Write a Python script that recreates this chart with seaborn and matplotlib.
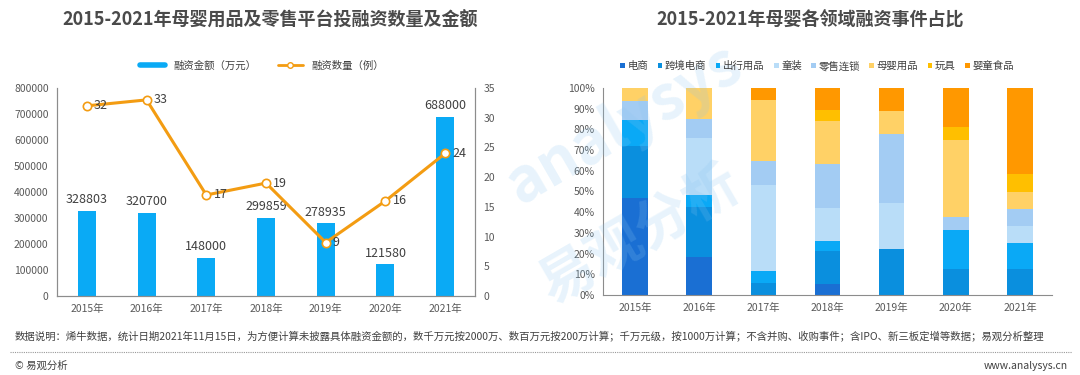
import numpy as np
import pandas as pd
import matplotlib
matplotlib.use('Agg')
import matplotlib.pyplot as plt
import seaborn as sns
from matplotlib.lines import Line2D
from matplotlib.patches import Patch

# --- data ---
years = ['2015年', '2016年', '2017年', '2018年', '2019年', '2020年', '2021年']
amount = [328803, 320700, 148000, 299859, 278935, 121580, 688000]   # 融资金额（万元）
deal_count = [32, 33, 17, 19, 9, 16, 24]                              # 融资数量（例）

sectors = ['电商', '跨境电商', '出行用品', '童装', '零售连锁', '母婴用品', '玩具', '婴童食品']
# events per sector per year (2015..2021)
ecom = [15, 6, 0, 1, 0, 0, 0]
cross_border = [8, 8, 1, 3, 2, 2, 3]
travel = [4, 2, 1, 1, 0, 3, 3]
kids_wear = [0, 9, 7, 3, 2, 0, 2]
retail_chain = [3, 3, 2, 4, 3, 1, 2]
maternal = [2, 5, 5, 4, 1, 6, 2]
toys = [0, 0, 0, 1, 0, 1, 2]
baby_food = [0, 0, 1, 2, 1, 3, 10]

sector_colors = ['#1a6fd3', '#0a8fde', '#0aa9f6', '#b9ddf8', '#a3ccf3',
                 '#ffd166', '#ffbf00', '#ff9800']

sns.set_theme(style='white')
plt.rcParams['font.family'] = ['Noto Sans CJK SC', 'DejaVu Sans']
plt.rcParams['axes.unicode_minus'] = False

TXT = '#404040'
TICK = '#595959'
SPINE = '#8c8c8c'

fig = plt.figure(figsize=(10.8, 3.75), dpi=100)
W, H = 1080, 375


def px_axes(x0, y0, x1, y1):
    return fig.add_axes([x0 / W, 1 - y1 / H, (x1 - x0) / W, (y1 - y0) / H])


# --- left chart: amount bars + count line ---
ax = px_axes(57, 88, 475, 296)
df_left = pd.DataFrame({'year': years, 'amount': amount})
sns.barplot(data=df_left, x='year', y='amount', color='#0aaaf5', width=0.3,
            saturation=1, ax=ax, linewidth=0)
ax.set_ylim(0, 800000)
ax.set_yticks(np.arange(0, 800001, 100000))
ax.set_xlim(-0.5, 6.5)
ax.set_xlabel('')
ax.set_ylabel('')
for i, v in enumerate(amount):
    ax.text(i, v + 18000, f'{v}', ha='center', va='bottom', fontsize=9, color=TXT)

ax2 = ax.twinx()
sns.lineplot(x=np.arange(len(years)), y=deal_count, ax=ax2, color='#f39c12',
             linewidth=2.2, marker='o', markersize=6, markerfacecolor='white',
             markeredgecolor='#f39c12', markeredgewidth=1.2)
ax2.set_ylim(0, 35)
ax2.set_yticks(np.arange(0, 36, 5))
ax2.set_xlim(-0.5, 6.5)
for i, v in enumerate(deal_count):
    ax2.text(i + 0.12, v, f'{v}', ha='left', va='center', fontsize=9, color=TXT)

for a in (ax, ax2):
    a.spines['top'].set_visible(False)
    for s in ('left', 'right', 'bottom'):
        a.spines[s].set_color(SPINE)
        a.spines[s].set_linewidth(0.8)
    a.tick_params(axis='both', length=0, labelsize=7.5, colors=TICK, pad=6)
ax.patch.set_alpha(0)

fig.text(270 / W, 1 - 20 / H, '2015-2021年母婴用品及零售平台投融资数量及金额',
         ha='center', va='center', fontsize=13, fontweight='bold', color='#4a4a4a')
leg_handles = [Line2D([0], [0], color='#0aaaf5', lw=4),
               Line2D([0], [0], color='#f39c12', lw=2, marker='o',
                      markerfacecolor='white', markersize=4)]
fig.legend(leg_handles, ['融资金额（万元）', '融资数量（例）'], loc='center',
           bbox_to_anchor=(262 / W, 1 - 66 / H), ncol=2, frameon=False,
           fontsize=7.5, handlelength=2.4, columnspacing=2.0, labelcolor=TXT)

# --- right chart: stacked percentage bars ---
axr = px_axes(603, 88, 1052, 295)
counts = np.array([ecom, cross_border, travel, kids_wear, retail_chain,
                   maternal, toys, baby_food], dtype=float)
share = counts / counts.sum(axis=0) * 100
cum = np.cumsum(share, axis=0)
for k in range(len(sectors) - 1, -1, -1):
    df_k = pd.DataFrame({'year': years, 'cum': cum[k]})
    sns.barplot(data=df_k, x='year', y='cum', color=sector_colors[k], width=0.4,
                saturation=1, ax=axr, linewidth=0)
axr.set_ylim(0, 100)
axr.set_yticks(np.arange(0, 101, 10))
axr.set_yticklabels([f'{t}%' for t in range(0, 101, 10)])
axr.set_xlim(-0.5, 6.5)
axr.set_xlabel('')
axr.set_ylabel('')
for s in ('top', 'right'):
    axr.spines[s].set_visible(False)
for s in ('left', 'bottom'):
    axr.spines[s].set_color(SPINE)
    axr.spines[s].set_linewidth(0.8)
axr.tick_params(axis='both', length=0, labelsize=7.5, colors=TICK, pad=6)
axr.patch.set_alpha(0)

fig.text(810 / W, 1 - 20 / H, '2015-2021年母婴各领域融资事件占比',
         ha='center', va='center', fontsize=13, fontweight='bold', color='#4a4a4a')
sec_handles = [Patch(facecolor=c, edgecolor='none') for c in sector_colors]
fig.legend(sec_handles, sectors, loc='center', bbox_to_anchor=(817 / W, 1 - 66 / H),
           ncol=8, frameon=False, fontsize=7.5, handlelength=0.45, handleheight=0.45,
           handletextpad=0.25, columnspacing=0.9, labelcolor=TXT)

# --- watermark ---
fig.text(625 / W, 1 - 125 / H, 'analysys', ha='center', va='center', fontsize=44,
         fontweight='bold', color='#8cc6f0', alpha=0.2, rotation=30)
fig.text(640 / W, 1 - 235 / H, '易观分析', ha='center', va='center', fontsize=40,
         fontweight='bold', color='#8cc6f0', alpha=0.2, rotation=30)

# --- footer ---
fig.text(15 / W, 1 - 336 / H,
         '数据说明：烯牛数据，统计日期2021年11月15日，为方便计算未披露具体融资金额的，数千万元按2000万、'
         '数百万元按200万计算；千万元级，按1000万计算；不含并购、收购事件；含IPO、新三板定增等数据；易观分析整理',
         ha='left', va='center', fontsize=7.5, color=TXT)
fig.add_artist(Line2D([10 / W, 1072 / W], [1 - 352 / H, 1 - 352 / H], color='#999999',
                      lw=0.8, linestyle=(0, (1, 1))))
fig.text(15 / W, 1 - 366 / H, '© 易观分析', ha='left', va='center', fontsize=7.5, color=TXT)
fig.text(1068 / W, 1 - 366 / H, 'www.analysys.cn', ha='right', va='center',
         fontsize=7.5, color=TXT)

fig.savefig('out.png', dpi=100)
